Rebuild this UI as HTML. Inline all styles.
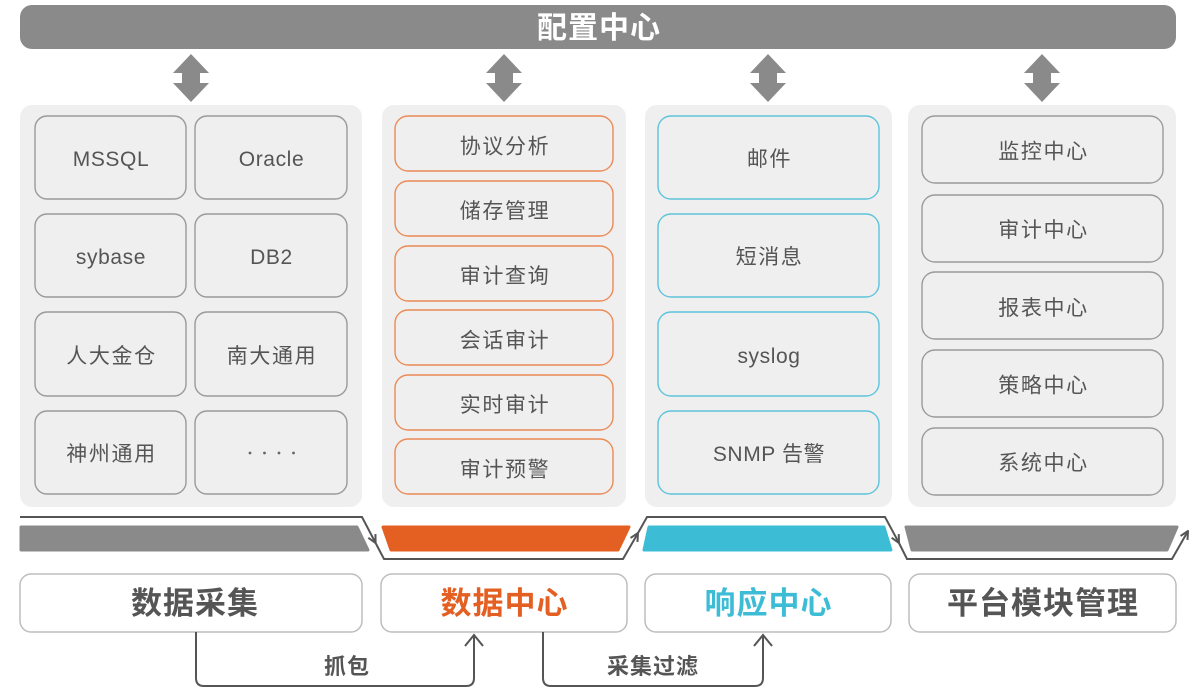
<!DOCTYPE html>
<html><head><meta charset="utf-8">
<style>
html,body{margin:0;padding:0;background:#fff;}
svg{display:block;}
</style></head>
<body>
<svg width="1198" height="693" viewBox="0 0 1198 693" xmlns="http://www.w3.org/2000/svg" font-family="'Liberation Sans','Noto Sans CJK SC',sans-serif">
<defs>
<marker id="ah" viewBox="0 0 10 10" refX="9" refY="5" markerWidth="10" markerHeight="10" markerUnits="userSpaceOnUse" orient="auto">
<path d="M1,1 L9,5 L1,9" fill="none" stroke="#555" stroke-width="2" stroke-linejoin="miter"/>
</marker>
</defs>
<rect width="1198" height="693" fill="#fff"/>

<!-- top bar -->
<rect x="20" y="5" width="1156" height="44" rx="12" fill="#8a8a8a"/>
<text x="599" y="38" font-size="30" font-weight="700" fill="#fff" text-anchor="middle" letter-spacing="1">配置中心</text>

<!-- double arrows -->
<g fill="#8a8a8a">
<path d="M191,54 L209,73 L200,73 L200,83 L209,83 L191,102 L173,83 L182,83 L182,73 L173,73 Z"/>
<path d="M504,54 L522,73 L513,73 L513,83 L522,83 L504,102 L486,83 L495,83 L495,73 L486,73 Z"/>
<path d="M768,54 L786,73 L777,73 L777,83 L786,83 L768,102 L750,83 L759,83 L759,73 L750,73 Z"/>
<path d="M1042,54 L1060,73 L1051,73 L1051,83 L1060,83 L1042,102 L1024,83 L1033,83 L1033,73 L1024,73 Z"/>
</g>

<!-- panels -->
<g fill="#efefef">
<rect x="20" y="105" width="342" height="402" rx="12"/>
<rect x="382" y="105" width="244" height="402" rx="12"/>
<rect x="645" y="105" width="247" height="402" rx="12"/>
<rect x="908" y="105" width="268" height="402" rx="12"/>
</g>

<!-- panel 1 boxes -->
<g fill="none" stroke="#9a9a9a" stroke-width="1.4">
<rect x="35" y="116" width="151" height="83" rx="12"/>
<rect x="195" y="116" width="152" height="83" rx="12"/>
<rect x="35" y="214" width="151" height="83" rx="12"/>
<rect x="195" y="214" width="152" height="83" rx="12"/>
<rect x="35" y="312" width="151" height="84" rx="12"/>
<rect x="195" y="312" width="152" height="84" rx="12"/>
<rect x="35" y="411" width="151" height="83" rx="12"/>
<rect x="195" y="411" width="152" height="83" rx="12"/>
</g>
<g font-size="21" fill="#555" text-anchor="middle" letter-spacing="0.6">
<text x="111" y="166">MSSQL</text>
<text x="271.5" y="166">Oracle</text>
<text x="111" y="264">sybase</text>
<text x="271.5" y="264">DB2</text>
</g>
<g font-size="21" fill="#555" text-anchor="middle" letter-spacing="1.6">
<text x="111.5" y="363">人大金仓</text>
<text x="272" y="363">南大通用</text>
<text x="111.5" y="461">神州通用</text>
</g>
<g fill="#666">
<circle cx="250" cy="453" r="1.4"/>
<circle cx="264.5" cy="453" r="1.4"/>
<circle cx="279" cy="453" r="1.4"/>
<circle cx="293.5" cy="453" r="1.4"/>
</g>

<!-- panel 2 boxes -->
<g fill="none" stroke="#ec8a55" stroke-width="1.4">
<rect x="395" y="116" width="218" height="55" rx="13"/>
<rect x="395" y="181" width="218" height="55" rx="13"/>
<rect x="395" y="246" width="218" height="55" rx="13"/>
<rect x="395" y="310" width="218" height="55" rx="13"/>
<rect x="395" y="375" width="218" height="55" rx="13"/>
<rect x="395" y="439" width="218" height="55" rx="13"/>
</g>
<g font-size="21" fill="#555" text-anchor="middle" letter-spacing="1.6">
<text x="505" y="153.5">协议分析</text>
<text x="505" y="218">储存管理</text>
<text x="505" y="283">审计查询</text>
<text x="505" y="347.5">会话审计</text>
<text x="505" y="412">实时审计</text>
<text x="505" y="476.5">审计预警</text>
</g>

<!-- panel 3 boxes -->
<g fill="none" stroke="#5cc3dc" stroke-width="1.4">
<rect x="658" y="116" width="221" height="83" rx="13"/>
<rect x="658" y="214" width="221" height="83" rx="13"/>
<rect x="658" y="312" width="221" height="84" rx="13"/>
<rect x="658" y="411" width="221" height="83" rx="13"/>
</g>
<g font-size="21" fill="#555" text-anchor="middle" letter-spacing="1.6">
<text x="769.5" y="166">邮件</text>
<text x="769.5" y="264">短消息</text>
</g>
<g font-size="21" fill="#555" text-anchor="middle" letter-spacing="0.6">
<text x="769" y="363">syslog</text>
<text x="769" y="461">SNMP 告警</text>
</g>

<!-- panel 4 boxes -->
<g fill="none" stroke="#9a9a9a" stroke-width="1.4">
<rect x="922" y="116" width="241" height="67" rx="13"/>
<rect x="922" y="195" width="241" height="67" rx="13"/>
<rect x="922" y="272" width="241" height="67" rx="13"/>
<rect x="922" y="350" width="241" height="67" rx="13"/>
<rect x="922" y="428" width="241" height="67" rx="13"/>
</g>
<g font-size="21" fill="#555" text-anchor="middle" letter-spacing="1.6">
<text x="1043.5" y="158.5">监控中心</text>
<text x="1043.5" y="237">审计中心</text>
<text x="1043.5" y="315">报表中心</text>
<text x="1043.5" y="392.5">策略中心</text>
<text x="1043.5" y="470">系统中心</text>
</g>

<!-- strip -->
<g stroke-linejoin="round" stroke-width="3">
<polygon points="21,527 357,527 368,550 21,550" fill="#8a8a8a" stroke="#8a8a8a"/>
<polygon points="383,527 629,527 618,550 391,550" fill="#e35f22" stroke="#e35f22"/>
<polygon points="649,527 884,527 891,550 644,550" fill="#3dbcd6" stroke="#3dbcd6"/>
<polygon points="906,527 1177,527 1167,550 912,550" fill="#8a8a8a" stroke="#8a8a8a"/>
</g>

<!-- zigzag connector -->
<g fill="none" stroke="#555" stroke-width="2" stroke-linejoin="miter">
<path d="M20,517 L362,517 L375.6,543" marker-end="url(#ah)"/>
<path d="M375.6,543 L384,559 L623,559 L638,533" marker-end="url(#ah)"/>
<path d="M638,533 L647,517 L885,517 L899,543" marker-end="url(#ah)"/>
<path d="M899,543 L907,559 L1172,559 L1188,531" marker-end="url(#ah)"/>
</g>

<!-- bottom boxes -->
<g fill="#fff" stroke="#bdbdbd" stroke-width="1.5">
<rect x="20" y="574" width="342" height="58" rx="11"/>
<rect x="381" y="574" width="246" height="58" rx="11"/>
<rect x="645" y="574" width="246" height="58" rx="11"/>
<rect x="909" y="574" width="267" height="58" rx="11"/>
</g>
<g font-size="31" font-weight="700" text-anchor="middle" letter-spacing="1">
<text x="195" y="614" fill="#555">数据采集</text>
<text x="504.5" y="614" fill="#e35f22">数据中心</text>
<text x="768.5" y="614" fill="#3dbcd6">响应中心</text>
<text x="1043" y="614" fill="#555">平台模块管理</text>
</g>

<!-- bottom connectors -->
<g fill="none" stroke="#555" stroke-width="2">
<path d="M196,632 L196,678 Q196,686 204,686 L466,686 Q474,686 474,678 L474,636"/>
<path d="M465,646 L474,635 L483,646"/>
<path d="M543,632 L543,678 Q543,686 551,686 L755,686 Q763,686 763,678 L763,636"/>
<path d="M754,646 L763,635 L772,646"/>
</g>
<g font-size="22" font-weight="700" fill="#555" text-anchor="middle" letter-spacing="1">
<text x="347" y="674">抓包</text>
<text x="653" y="674">采集过滤</text>
</g>
</svg>
</body></html>
